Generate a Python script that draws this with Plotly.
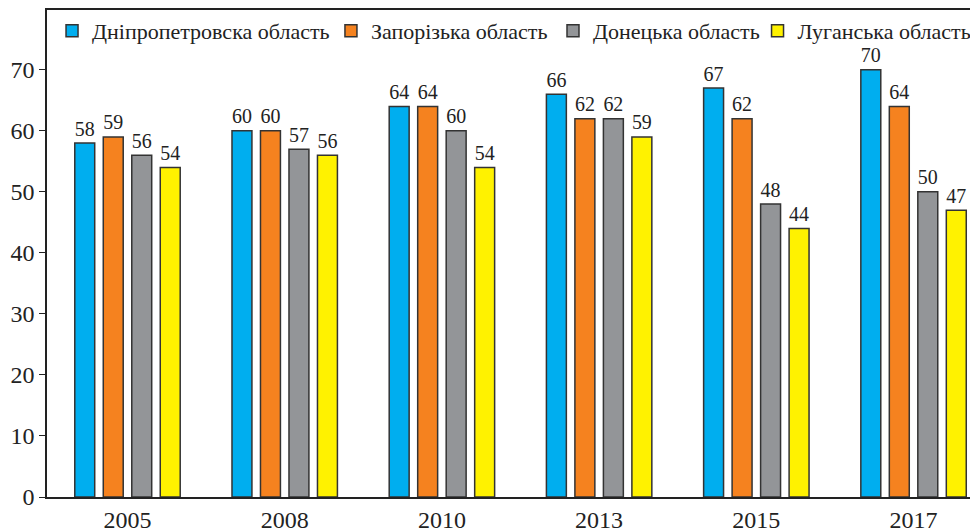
import plotly.graph_objects as go

years = ["2005", "2008", "2010", "2013", "2015", "2017"]
series_names = ["Дніпропетровска область", "Запорізька область", "Донецька область", "Луганська область"]
dnipro = [58, 60, 64, 66, 67, 70]
zapor = [59, 60, 64, 62, 62, 64]
donetsk = [56, 57, 60, 62, 48, 50]
luhansk = [54, 56, 54, 59, 44, 47]
colors = ["#00AEEF", "#F5821F", "#939598", "#FFF200"]
y_ticks = [0, 10, 20, 30, 40, 50, 60, 70]
legend_x = [0.0054, 0.305, 0.5435, 0.7632]

FONT = "'Liberation Serif', 'Times New Roman', 'DejaVu Serif', serif"
legend_ids = ["legend", "legend2", "legend3", "legend4"]
fig = go.Figure()
for name, vals, col, lid in zip(series_names, [dnipro, zapor, donetsk, luhansk], colors, legend_ids):
    fig.add_trace(go.Bar(
        x=years, y=vals, name=name, legend=lid,
        marker=dict(color=col, line=dict(color="#333333", width=1.5)),
        text=[str(v) for v in vals], textposition="outside",
        textfont=dict(family=FONT, size=22, color="#222222"),
        cliponaxis=False,
    ))

legends = {}
for lid, lx in zip(legend_ids, legend_x):
    legends[lid] = dict(orientation="h", x=lx, y=1.0, xanchor="left", yanchor="top",
                        font=dict(family=FONT, size=22, color="#222222"),
                        bgcolor="rgba(0,0,0,0)", itemwidth=30)

# page body has an 8px margin; compensate so the plot area lands where the reference has it
fig.update_layout(
    width=978, height=532,
    margin=dict(l=39, r=8, t=2, b=43, autoexpand=False),
    paper_bgcolor="white", plot_bgcolor="white",
    barmode="group", bargap=0.275, bargroupgap=0.3,
    font=dict(family=FONT, color="#222222"),
    showlegend=True,
    xaxis=dict(type="category", range=[-0.512, 5.41], showline=True, linecolor="#222222",
               linewidth=1.5, mirror=True, ticks="", showgrid=False, automargin=False,
               tickfont=dict(family=FONT, size=24, color="#222222")),
    yaxis=dict(range=[0, 79.8], tickvals=y_ticks, showline=True, linecolor="#222222",
               linewidth=1.5, ticks="outside", ticklen=6, tickcolor="#222222", showgrid=False,
               zeroline=False, automargin=False,
               tickfont=dict(family=FONT, size=24, color="#222222")),
    **legends,
)
fig.write_html("out.html")
